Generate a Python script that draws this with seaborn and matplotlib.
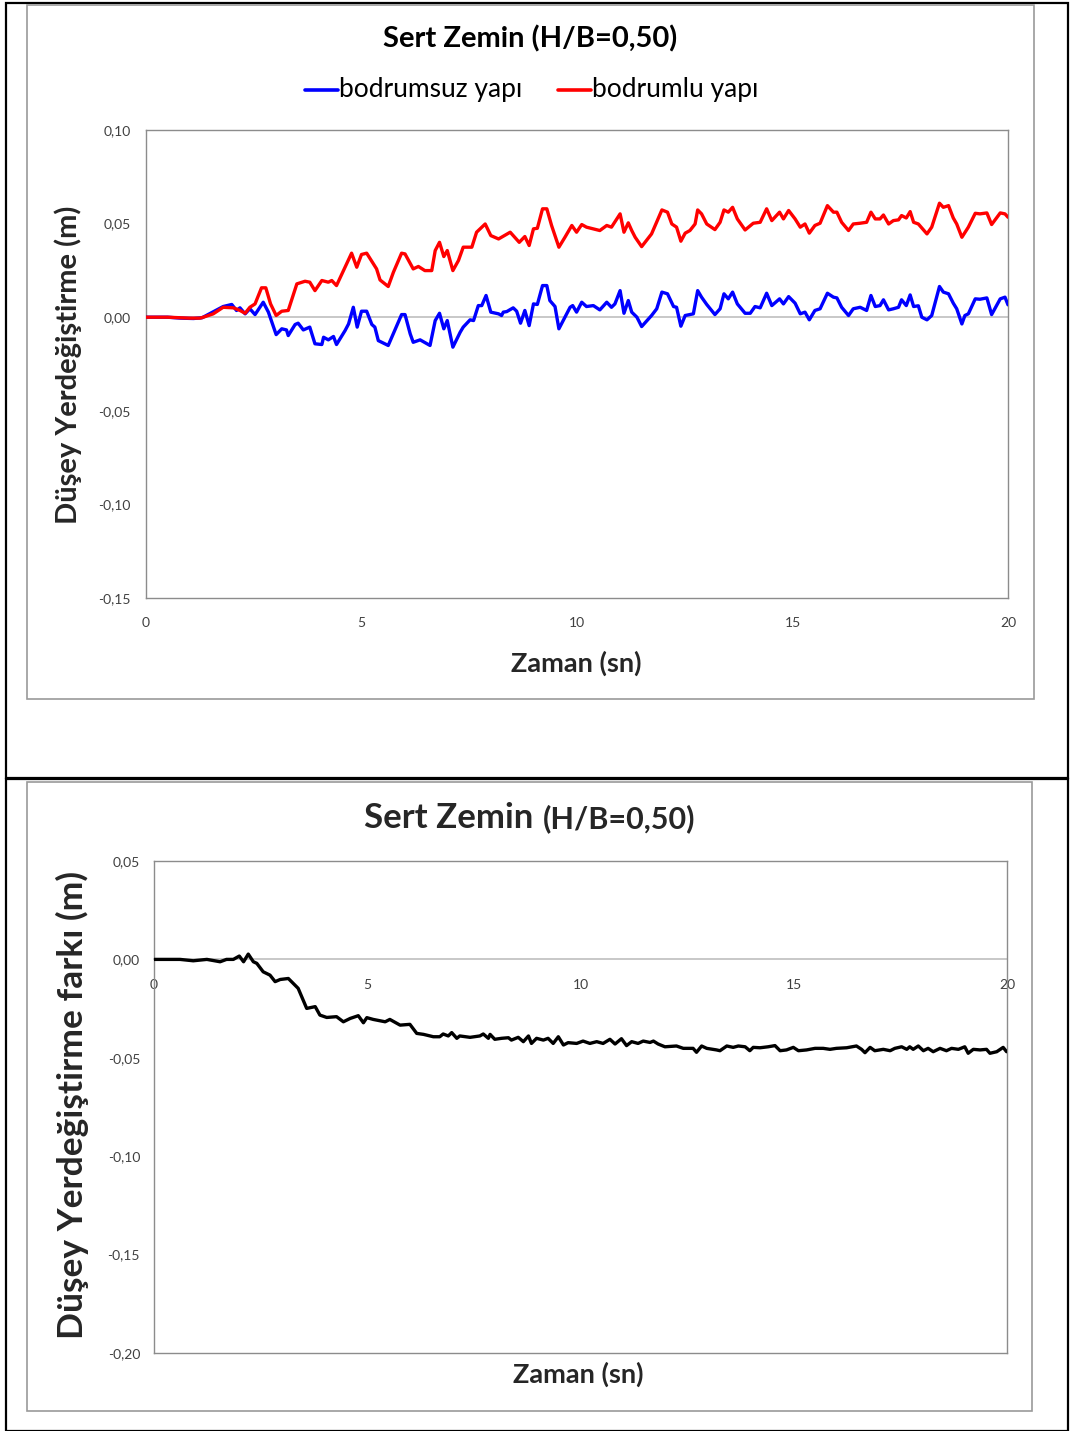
import matplotlib
matplotlib.use("Agg")
import matplotlib.pyplot as plt
import seaborn as sns
import numpy as np
import pandas as pd
from matplotlib.patches import Rectangle
from matplotlib.ticker import FuncFormatter

# ---------------- data ----------------
t_blue = [0.0, 0.5, 0.8, 1.1, 1.3, 1.79, 1.99, 2.10, 2.18, 2.30, 2.41, 2.53, 2.72, 2.84,
          3.02, 3.15, 3.26, 3.30, 3.46, 3.53, 3.65, 3.80, 3.92, 4.08, 4.12, 4.23, 4.35,
          4.42, 4.62, 4.70, 4.81, 4.90, 5.00, 5.12, 5.24, 5.31, 5.39, 5.62, 5.93, 6.01,
          6.13, 6.20, 6.36, 6.59, 6.71, 6.81, 6.91, 6.99, 7.12, 7.29, 7.36, 7.52, 7.60,
          7.71, 7.79, 7.89, 8.00, 8.18, 8.25, 8.29, 8.37, 8.52, 8.60, 8.69, 8.79, 8.89,
          8.99, 9.08, 9.20, 9.30, 9.37, 9.49, 9.58, 9.72, 9.84, 9.90, 9.99, 10.11, 10.22,
          10.38, 10.53, 10.69, 10.80, 10.88, 11.00, 11.09, 11.19, 11.27, 11.39, 11.50,
          11.73, 11.85, 11.97, 12.10, 12.24, 12.31, 12.41, 12.51, 12.70, 12.80, 12.89,
          13.01, 13.20, 13.32, 13.41, 13.51, 13.61, 13.72, 13.90, 14.02, 14.13, 14.25,
          14.40, 14.52, 14.70, 14.79, 14.91, 15.06, 15.18, 15.29, 15.39, 15.52, 15.64,
          15.81, 15.95, 16.03, 16.14, 16.30, 16.41, 16.57, 16.72, 16.82, 16.92, 17.03,
          17.11, 17.23, 17.34, 17.46, 17.53, 17.64, 17.73, 17.81, 17.92, 18.00, 18.12,
          18.23, 18.41, 18.50, 18.62, 18.73, 18.81, 18.93, 19.00, 19.08, 19.24, 19.35,
          19.51, 19.62, 19.82, 19.93, 20.00]
v_blue = [0.0, 0.0, -0.0005, -0.0007, -0.0003, 0.0057, 0.0068, 0.0036, 0.0050, 0.0018,
          0.0045, 0.0014, 0.0080, 0.0027, -0.0093, -0.0062, -0.0068, -0.0098, -0.0039,
          -0.0032, -0.0068, -0.0053, -0.0142, -0.0146, -0.0107, -0.0121, -0.0103, -0.0146,
          -0.0071, -0.0036, 0.0053, -0.0053, 0.0032, 0.0032, -0.0039, -0.0053, -0.0125,
          -0.0151, 0.0014, 0.0014, -0.0089, -0.0134, -0.0121, -0.0151, -0.0018, 0.0021,
          -0.0062, -0.0018, -0.0160, -0.0080, -0.0053, -0.0014, -0.0018, 0.0062, 0.0062,
          0.0116, 0.0027, 0.0018, 0.0009, 0.0027, 0.0030, 0.0050, 0.0032, -0.0032, 0.0036,
          -0.0045, 0.0071, 0.0068, 0.0169, 0.0169, 0.0089, 0.0057, -0.0062, 0.0, 0.0053,
          0.0062, 0.0027, 0.0080, 0.0057, 0.0062, 0.0039, 0.0080, 0.0053, 0.0071, 0.0142,
          0.0021, 0.0089, 0.0027, 0.0, -0.0050, 0.0009, 0.0045, 0.0134, 0.0125, 0.0057,
          0.0053, -0.0048, 0.0009, 0.0018, 0.0142, 0.0107, 0.0068, 0.0014, 0.0045, 0.0125,
          0.0098, 0.0134, 0.0071, 0.0021, 0.0021, 0.0057, 0.0050, 0.0128, 0.0062, 0.0098,
          0.0071, 0.0110, 0.0075, 0.0018, 0.0027, -0.0014, 0.0036, 0.0045, 0.0128, 0.0107,
          0.0103, 0.0053, 0.0009, 0.0045, 0.0053, 0.0036, 0.0116, 0.0057, 0.0062, 0.0093,
          0.0039, 0.0045, 0.0053, 0.0093, 0.0062, 0.0119, 0.0057, 0.0061, 0.0, -0.0014,
          0.0009, 0.0164, 0.0134, 0.0125, 0.0075, 0.0045, -0.0036, 0.0009, 0.0018, 0.0098,
          0.0096, 0.0103, 0.0014, 0.0098, 0.0107, 0.0066]

t_red = [0.0, 0.5, 1.0, 1.25, 1.33, 1.56, 1.79, 2.03, 2.18, 2.30, 2.41, 2.53, 2.68, 2.78,
         2.89, 3.02, 3.15, 3.30, 3.50, 3.69, 3.80, 3.92, 4.08, 4.23, 4.31, 4.42, 4.77,
         4.89, 5.00, 5.12, 5.35, 5.43, 5.62, 5.74, 5.93, 6.01, 6.20, 6.32, 6.47, 6.63,
         6.71, 6.81, 6.91, 6.99, 7.12, 7.25, 7.36, 7.56, 7.67, 7.87, 8.00, 8.18, 8.45,
         8.66, 8.79, 8.89, 8.99, 9.08, 9.20, 9.30, 9.41, 9.58, 9.72, 9.88, 9.99, 10.11,
         10.22, 10.53, 10.69, 10.80, 11.00, 11.09, 11.19, 11.27, 11.35, 11.50, 11.73,
         11.97, 12.10, 12.20, 12.31, 12.41, 12.51, 12.62, 12.74, 12.80, 12.89, 13.01,
         13.20, 13.32, 13.41, 13.51, 13.61, 13.72, 13.90, 14.09, 14.25, 14.40, 14.52,
         14.70, 14.79, 14.91, 15.06, 15.18, 15.29, 15.39, 15.52, 15.64, 15.81, 15.95,
         16.03, 16.14, 16.30, 16.41, 16.57, 16.72, 16.82, 16.92, 17.03, 17.11, 17.23,
         17.34, 17.46, 17.53, 17.64, 17.73, 17.81, 17.92, 18.12, 18.23, 18.41, 18.50,
         18.62, 18.73, 18.81, 18.93, 19.08, 19.24, 19.35, 19.51, 19.62, 19.82, 19.93, 20.00]
v_red = [0.0, 0.0, -0.0005, -0.0005, 0.0, 0.0018, 0.0053, 0.0050, 0.0036, 0.0021, 0.0053,
         0.0071, 0.0157, 0.0157, 0.0071, 0.0009, 0.0032, 0.0036, 0.0178, 0.0192, 0.0187,
         0.0142, 0.0196, 0.0187, 0.0196, 0.0169, 0.0342, 0.0267, 0.0335, 0.0342, 0.0258,
         0.0199, 0.0164, 0.0240, 0.0342, 0.0338, 0.0258, 0.0271, 0.0249, 0.0249, 0.0356,
         0.0400, 0.0324, 0.0356, 0.0249, 0.0303, 0.0374, 0.0374, 0.0454, 0.0498, 0.0436,
         0.0418, 0.0454, 0.0400, 0.0431, 0.0383, 0.0472, 0.0475, 0.0579, 0.0579, 0.0490,
         0.0374, 0.0427, 0.0490, 0.0454, 0.0495, 0.0481, 0.0463, 0.0490, 0.0481, 0.0552,
         0.0454, 0.0504, 0.0463, 0.0427, 0.0377, 0.0445, 0.0573, 0.0561, 0.0498, 0.0481,
         0.0406, 0.0449, 0.0463, 0.0498, 0.0573, 0.0552, 0.0498, 0.0468, 0.0507, 0.0573,
         0.0561, 0.0587, 0.0525, 0.0466, 0.0502, 0.0507, 0.0579, 0.0516, 0.0561, 0.0525,
         0.0570, 0.0525, 0.0481, 0.0498, 0.0449, 0.0490, 0.0502, 0.0596, 0.0561, 0.0561,
         0.0507, 0.0463, 0.0498, 0.0502, 0.0507, 0.0561, 0.0525, 0.0525, 0.0546, 0.0498,
         0.0516, 0.0520, 0.0543, 0.0530, 0.0564, 0.0507, 0.0498, 0.0445, 0.0481, 0.0609,
         0.0587, 0.0596, 0.0530, 0.0498, 0.0427, 0.0481, 0.0555, 0.0552, 0.0557, 0.0495,
         0.0557, 0.0552, 0.0534]

t_diff = [0.0, 0.61, 0.92, 1.24, 1.55, 1.70, 1.86, 2.00, 2.10, 2.21, 2.33, 2.41, 2.56,
          2.72, 2.84, 2.96, 3.15, 3.38, 3.58, 3.78, 3.89, 4.05, 4.28, 4.44, 4.60, 4.79,
          4.91, 4.99, 5.14, 5.42, 5.53, 5.77, 6.00, 6.16, 6.32, 6.55, 6.70, 6.78, 6.90,
          6.98, 7.10, 7.17, 7.41, 7.64, 7.72, 7.84, 7.88, 7.99, 8.15, 8.31, 8.38, 8.54,
          8.66, 8.78, 8.85, 8.97, 9.13, 9.24, 9.36, 9.48, 9.60, 9.71, 9.91, 10.06, 10.22,
          10.38, 10.53, 10.69, 10.81, 10.96, 11.08, 11.20, 11.35, 11.47, 11.63, 11.71,
          11.82, 11.98, 12.25, 12.41, 12.64, 12.72, 12.84, 12.96, 13.19, 13.27, 13.43,
          13.58, 13.70, 13.86, 13.97, 14.05, 14.21, 14.40, 14.56, 14.68, 14.83, 14.99,
          15.11, 15.30, 15.50, 15.69, 15.85, 16.00, 16.24, 16.47, 16.59, 16.67, 16.79,
          16.90, 17.10, 17.26, 17.37, 17.53, 17.65, 17.72, 17.80, 17.92, 18.04, 18.15,
          18.27, 18.43, 18.58, 18.70, 18.86, 19.01, 19.09, 19.21, 19.37, 19.52, 19.60,
          19.76, 19.91, 19.99]
v_diff = [0.0, 0.0, -0.0007, 0.0, -0.0012, 0.0, 0.0, 0.0017, -0.0012, 0.0027, -0.0012,
          -0.0020, -0.0063, -0.0080, -0.0113, -0.0102, -0.0097, -0.0147, -0.0249, -0.0240,
          -0.0283, -0.0295, -0.0291, -0.0317, -0.0300, -0.0286, -0.0322, -0.0296, -0.0305,
          -0.0317, -0.0305, -0.0334, -0.0330, -0.0376, -0.0381, -0.0393, -0.0393, -0.0379,
          -0.0389, -0.0372, -0.0401, -0.0389, -0.0396, -0.0389, -0.0379, -0.0401, -0.0381,
          -0.0406, -0.0401, -0.0398, -0.0410, -0.0396, -0.0418, -0.0389, -0.0427, -0.0401,
          -0.0410, -0.0401, -0.0427, -0.0393, -0.0435, -0.0423, -0.0427, -0.0415, -0.0427,
          -0.0418, -0.0427, -0.0406, -0.0430, -0.0403, -0.0438, -0.0418, -0.0427, -0.0415,
          -0.0422, -0.0415, -0.0430, -0.0444, -0.0440, -0.0452, -0.0452, -0.0472, -0.0440,
          -0.0452, -0.0460, -0.0464, -0.0440, -0.0447, -0.0440, -0.0444, -0.0464, -0.0447,
          -0.0449, -0.0444, -0.0438, -0.0464, -0.0460, -0.0447, -0.0464, -0.0460, -0.0452,
          -0.0452, -0.0457, -0.0452, -0.0449, -0.0440, -0.0457, -0.0474, -0.0447, -0.0464,
          -0.0457, -0.0464, -0.0452, -0.0444, -0.0457, -0.0444, -0.0457, -0.0440, -0.0464,
          -0.0452, -0.0469, -0.0452, -0.0464, -0.0452, -0.0457, -0.0444, -0.0477, -0.0457,
          -0.0460, -0.0457, -0.0477, -0.0469, -0.0447, -0.0469]

series_labels = ["bodrumsuz yapı", "bodrumlu yapı"]
title_top = "Sert Zemin (H/B=0,50)"
ylabel_top = "Düşey Yerdeğiştirme (m)"
ylabel_bot = "Düşey Yerdeğiştirme farkı (m)"
xlabel = "Zaman (sn)"
x_ticks = [0, 5, 10, 15, 20]
y_ticks_top = [0.10, 0.05, 0.00, -0.05, -0.10, -0.15]
y_ticks_bot = [0.05, 0.00, -0.05, -0.10, -0.15, -0.20]

# ---------------- style ----------------
sns.set_theme(style="white")
plt.rcParams['font.family'] = ['Lato', 'DejaVu Sans']

W, H = 1070, 1431
fig = plt.figure(figsize=(W / 100, H / 100), dpi=100)

def fx(x):
    return x / W

def fy(y):
    return 1 - y / H

# outer table frame + chart frames
for (x0, y0, x1, y1, col, lw) in [
    (6, 3, 1068, 778, "black", 1.6),
    (6, 779, 1068, 1431, "black", 1.6),
    (27, 5, 1034, 699, "#9a9a9a", 1.2),
    (27, 782, 1032, 1411, "#9a9a9a", 1.2),
]:
    fig.add_artist(Rectangle((fx(x0), fy(y1)), fx(x1) - fx(x0), fy(y0) - fy(y1),
                             fill=False, edgecolor=col, linewidth=lw,
                             transform=fig.transFigure))

comma = FuncFormatter(lambda v, p: f"{v:.2f}".replace(".", ","))
grey = "#8c8c8c"
zero_grey = "#bfbfbf"
tick_col = "#404040"

# ---------------- top chart ----------------
ax1 = fig.add_axes([fx(146), fy(598), fx(1008) - fx(146), fy(130) - fy(598)])
df_top = pd.concat([
    pd.DataFrame({"t": t_blue, "v": v_blue, "s": series_labels[0]}),
    pd.DataFrame({"t": t_red, "v": v_red, "s": series_labels[1]}),
])
ax1.axhline(0, color=zero_grey, lw=1.2, zorder=1)
sns.lineplot(data=df_top, x="t", y="v", hue="s", palette=["#0000ff", "#ff0000"],
             estimator=None, sort=False, lw=2.4, ax=ax1, legend=False, zorder=3)
ax1.set_xlim(0, 20)
ax1.set_ylim(-0.15, 0.10)
ax1.set_xticks(x_ticks)
ax1.set_yticks(y_ticks_top)
ax1.yaxis.set_major_formatter(comma)
ax1.tick_params(axis="both", length=0, labelsize=10, labelcolor=tick_col)
ax1.tick_params(axis="y", pad=11)
ax1.tick_params(axis="x", pad=14)
for s in ax1.spines.values():
    s.set_color(grey)
    s.set_linewidth(1.0)
ax1.set_xlabel("")
ax1.set_ylabel("")

fig.text(fx(530), fy(39), title_top, ha="center", va="center", fontsize=21,
         fontweight="bold", color="black")
# legend
fig.add_artist(plt.Line2D([fx(305), fx(338)], [fy(90), fy(90)], color="#0000ff",
                          lw=2.6, transform=fig.transFigure))
fig.text(fx(339), fy(89), series_labels[0], ha="left", va="center", fontsize=19,
         color="black")
fig.add_artist(plt.Line2D([fx(558), fx(591)], [fy(90), fy(90)], color="#ff0000",
                          lw=2.6, transform=fig.transFigure))
fig.text(fx(592), fy(89), series_labels[1], ha="left", va="center", fontsize=19,
         color="black")
fig.text(fx(68), fy(365), ylabel_top, rotation=90, ha="center", va="center",
         fontsize=21, fontweight="bold")
fig.text(fx(576), fy(663), xlabel, ha="center", va="center", fontsize=19.5,
         fontweight="bold")

# ---------------- bottom chart ----------------
ax2 = fig.add_axes([fx(154), fy(1353), fx(1007) - fx(154), fy(861) - fy(1353)])
sns.lineplot(x=t_diff, y=v_diff, color="black", estimator=None, sort=False, lw=2.4,
             ax=ax2, zorder=3)
ax2.set_xlim(0, 20)
ax2.set_ylim(-0.20, 0.05)
ax2.set_yticks(y_ticks_bot)
ax2.yaxis.set_major_formatter(comma)
ax2.set_xticks([])
ax2.tick_params(axis="both", length=0, labelsize=10, labelcolor=tick_col)
ax2.tick_params(axis="y", pad=10)
for s in ax2.spines.values():
    s.set_color(grey)
    s.set_linewidth(1.0)
sec = ax2.secondary_xaxis(0.8)
sec.set_xticks(x_ticks)
sec.xaxis.set_ticks_position("bottom")
sec.xaxis.set_label_position("bottom")
sec.tick_params(length=0, labelsize=10, labelcolor=tick_col, pad=14,
                labelbottom=True, labeltop=False)
for s in sec.spines.values():
    s.set_color(zero_grey)
    s.set_linewidth(1.2)

fig.text(fx(533), fy(818), "Sert Zemin", ha="right", va="center", fontsize=25,
         fontweight="bold")
fig.text(fx(543), fy(819), "(H/B=0,50)", ha="left", va="center", fontsize=22,
         fontweight="bold")
fig.text(fx(72), fy(1105), ylabel_bot, rotation=90, ha="center", va="center",
         fontsize=25.5, fontweight="bold")
fig.text(fx(578), fy(1374), xlabel, ha="center", va="center", fontsize=19.5,
         fontweight="bold")

fig.savefig("out.png", dpi=100)
